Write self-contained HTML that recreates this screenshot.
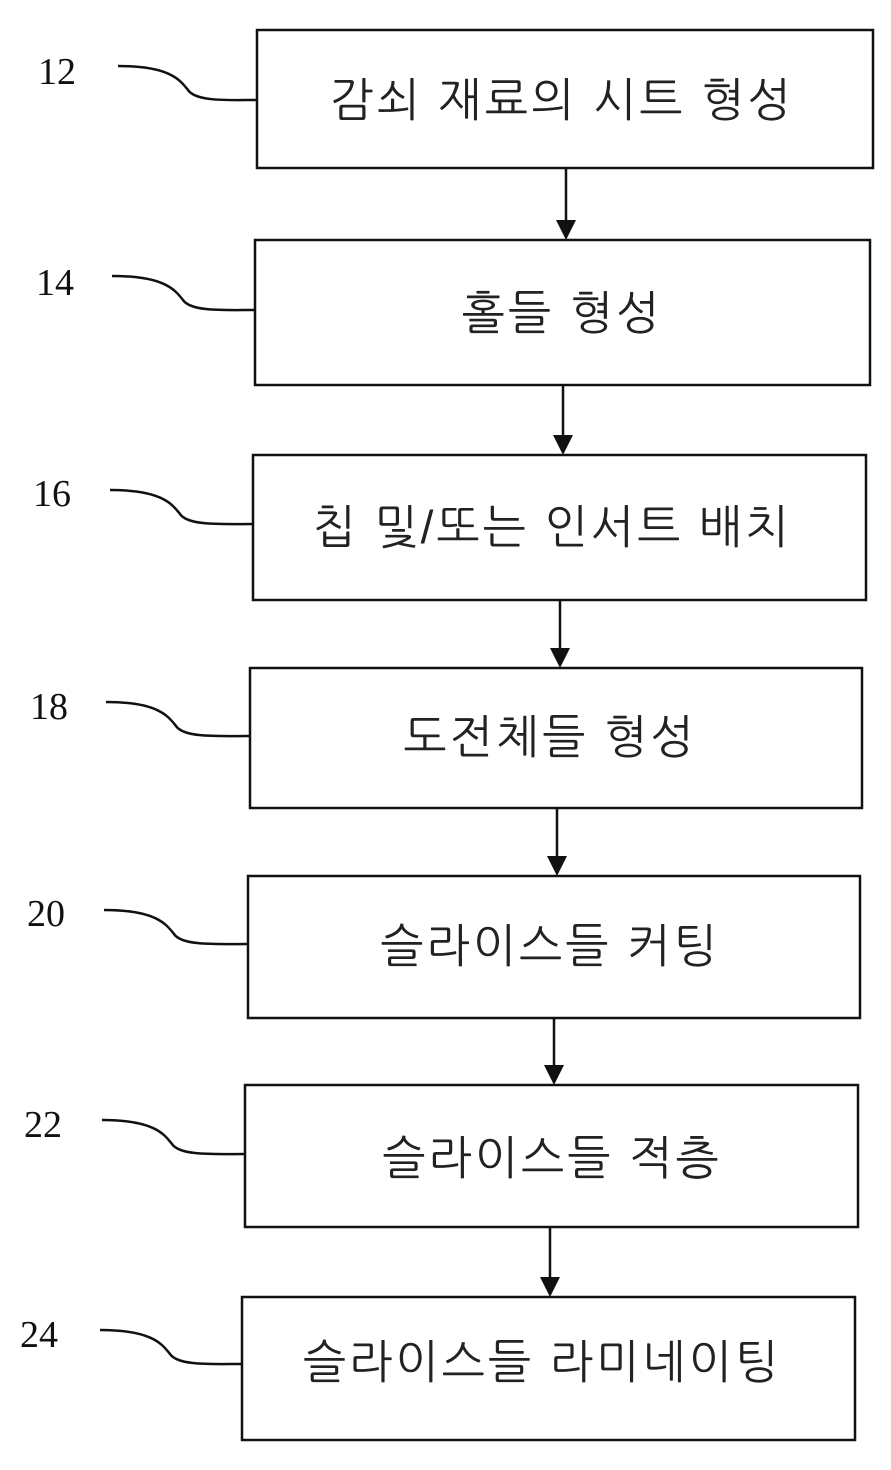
<!DOCTYPE html>
<html><head><meta charset="utf-8"><style>
html,body{margin:0;padding:0;background:#fff;}
svg{display:block;}
.k{font-family:"Liberation Sans","NanumGothic","Noto Sans CJK KR",sans-serif;font-size:46px;letter-spacing:3px;fill:#222;text-anchor:middle;dominant-baseline:central;font-weight:300;}
.n{font-family:"Liberation Serif",serif;font-size:38px;fill:#111;}
</style></head><body>
<svg width="891" height="1470" viewBox="0 0 891 1470" xmlns="http://www.w3.org/2000/svg">
<g fill="none" stroke="#111" stroke-width="2.5">
<rect x="257" y="30" width="616" height="138"/>
<rect x="255" y="240" width="615" height="145"/>
<rect x="253" y="455" width="613" height="145"/>
<rect x="250" y="668" width="612" height="140"/>
<rect x="248" y="876" width="612" height="142"/>
<rect x="245" y="1085" width="613" height="142"/>
<rect x="242" y="1297" width="613" height="143"/>
<path d="M118 66 C170 66 180 80 188 90 C196 102 230 100 257 100"/>
<path d="M112 276 C165 276 175 290 183 300 C191 312 225 310 255 310"/>
<path d="M110 490 C162 490 172 504 180 514 C188 526 222 524 253 524"/>
<path d="M106 702 C158 702 168 716 176 726 C184 738 218 736 250 736"/>
<path d="M104 910 C156 910 166 924 174 934 C182 946 216 944 248 944"/>
<path d="M102 1120 C154 1120 164 1134 172 1144 C180 1156 214 1154 245 1154"/>
<path d="M100 1330 C152 1330 162 1344 170 1354 C178 1366 212 1364 242 1364"/>
<path d="M566 168 V228 M563 385 V443 M560 600 V656 M557 808 V864 M554 1018 V1073 M550 1227 V1285"/>
</g>
<g fill="#111">
<polygon points="556,220 576,220 566,240"/>
<polygon points="553,435 573,435 563,455"/>
<polygon points="550,648 570,648 560,668"/>
<polygon points="547,856 567,856 557,876"/>
<polygon points="544,1065 564,1065 554,1085"/>
<polygon points="540,1277 560,1277 550,1297"/>
</g>
<text class="k" x="562" y="100">감쇠 재료의 시트 형성</text>
<text class="k" x="562" y="313">홀들 형성</text>
<text class="k" x="552" y="527">칩 및/또는 인서트 배치</text>
<text class="k" x="550" y="737">도전체들 형성</text>
<text class="k" x="550" y="946">슬라이스들 커팅</text>
<text class="k" x="552" y="1158">슬라이스들 적층</text>
<text class="k" x="542" y="1362">슬라이스들 라미네이팅</text>
<text class="n" x="38" y="84">12</text>
<text class="n" x="36" y="295">14</text>
<text class="n" x="33" y="506">16</text>
<text class="n" x="30" y="719">18</text>
<text class="n" x="27" y="926">20</text>
<text class="n" x="24" y="1137">22</text>
<text class="n" x="20" y="1347">24</text>
</svg>
</body></html>
